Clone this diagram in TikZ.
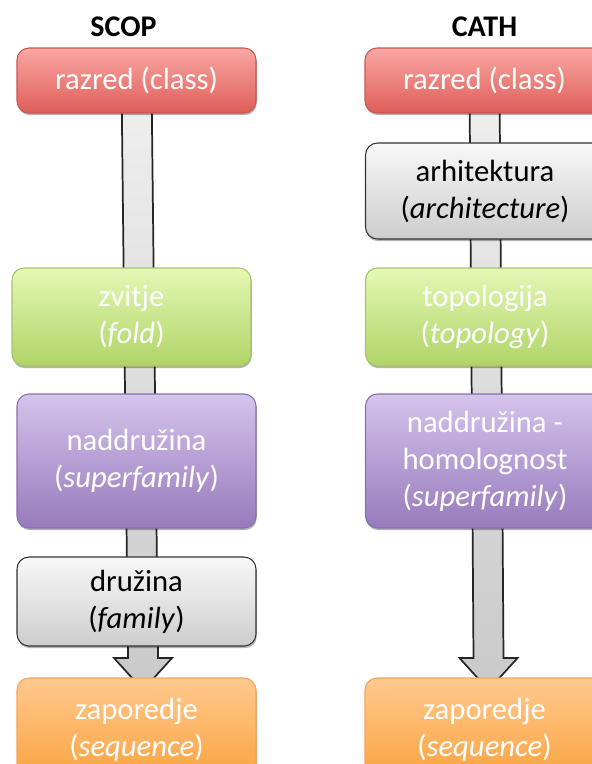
\documentclass[tikz,border=0pt]{standalone}
\usepackage{fontspec}
\setmainfont{Carlito}
\usetikzlibrary{shadows,calc}
\definecolor{redtop}{HTML}{FAA7A4}
\definecolor{redbot}{HTML}{DE5E58}
\definecolor{redline}{HTML}{CC5550}
\definecolor{grntop}{HTML}{E4F8B4}
\definecolor{grnbot}{HTML}{B0D468}
\definecolor{grnline}{HTML}{A6C46A}
\definecolor{purtop}{HTML}{D4C4EC}
\definecolor{purbot}{HTML}{977ABC}
\definecolor{purline}{HTML}{8A6EAE}
\definecolor{gratop}{HTML}{F8F8F8}
\definecolor{grabot}{HTML}{CDCDCD}
\definecolor{graline}{HTML}{333333}
\definecolor{orgtop}{HTML}{FFC98F}
\definecolor{orgbot}{HTML}{FBA23C}
\definecolor{orgline}{HTML}{F5A55A}
\tikzset{
  box/.style={rounded corners=9pt, minimum width=179.25pt, inner sep=0pt, align=center,
    line width=0.8pt, text=white,
    font=\fontsize{23pt}{27.75pt}\selectfont,
    drop shadow={shadow xshift=0.6pt, shadow yshift=-1.6pt, opacity=0.3, fill=black}},
  redbox/.style={box, draw=redline, top color=redtop, bottom color=redbot, minimum height=48.75pt},
  grnbox/.style={box, draw=grnline, top color=grntop, bottom color=grnbot},
  purbox/.style={box, draw=purline, top color=purtop, bottom color=purbot, minimum height=100.5pt},
  grabox/.style={box, draw=graline, top color=gratop, bottom color=grabot, text=black},
  orgbox/.style={box, draw=orgline, top color=orgtop, bottom color=orgbot, minimum height=78pt},
  title/.style={font=\fontsize{22.5pt}{27pt}\selectfont\bfseries, anchor=base, inner sep=0pt},
  bigarrow/.style={draw=black!85, line width=1.3pt, top color=gray!12, bottom color=gray!42}
}
\begin{document}
\begin{tikzpicture}[x=0.75pt,y=-0.75pt]
\useasboundingbox (0,0) rectangle (592,764);
\clip (0,0) rectangle (592,764);
% titles
\node[title] (tscop) at (123.5,36) {SCOP};
\node[title] (tcath) at (484.5,36) {CATH};
% node positions (coordinates only, boxes drawn after arrows)
\coordinate (L1c) at (136.5,80.5);
\coordinate (R1c) at (484.5,80.5);
\coordinate (Ltip) at (143,690);
\coordinate (Rtip) at (488.5,690);
% arrows
\draw[bigarrow] ($(L1c)+(-15,0)$) -- ($(Ltip)+(-15,-32)$) -- ($(Ltip)+(-29,-32)$) -- (Ltip)
  -- ($(Ltip)+(29,-32)$) -- ($(Ltip)+(15,-32)$) -- ($(L1c)+(15,0)$) -- cycle;
\draw[bigarrow] ($(R1c)+(-15,0)$) -- ($(Rtip)+(-15,-32)$) -- ($(Rtip)+(-29,-32)$) -- (Rtip)
  -- ($(Rtip)+(29,-32)$) -- ($(Rtip)+(15,-32)$) -- ($(R1c)+(15,0)$) -- cycle;
% SCOP
\node[redbox] (L1) at (L1c) {razred (class)};
\node[grnbox, minimum height=73.5pt] (L2) at (131.5,317) {zvitje\\(\textit{fold})};
\node[purbox] (L3) at (136.5,461) {naddružina\\(\textit{superfamily})};
\node[grabox, minimum height=66.75pt] (L4) at (136.5,601.5) {družina\\(\textit{family})};
\node[orgbox] (L5) at (136.5,730) {zaporedje\\(\textit{sequence})};
% CATH
\node[redbox] (R1) at (R1c) {razred (class)};
\node[grabox, minimum height=72pt] (R2) at (485,191) {arhitektura\\(\textit{architecture})};
\node[grnbox, minimum height=73.5pt] (R3) at (485,317) {topologija\\(\textit{topology})};
\node[purbox] (R4) at (485,461) {naddružina -\\homolognost\\(\textit{superfamily})};
\node[orgbox] (R5) at (484.5,730) {zaporedje\\(\textit{sequence})};
\end{tikzpicture}
\end{document}
